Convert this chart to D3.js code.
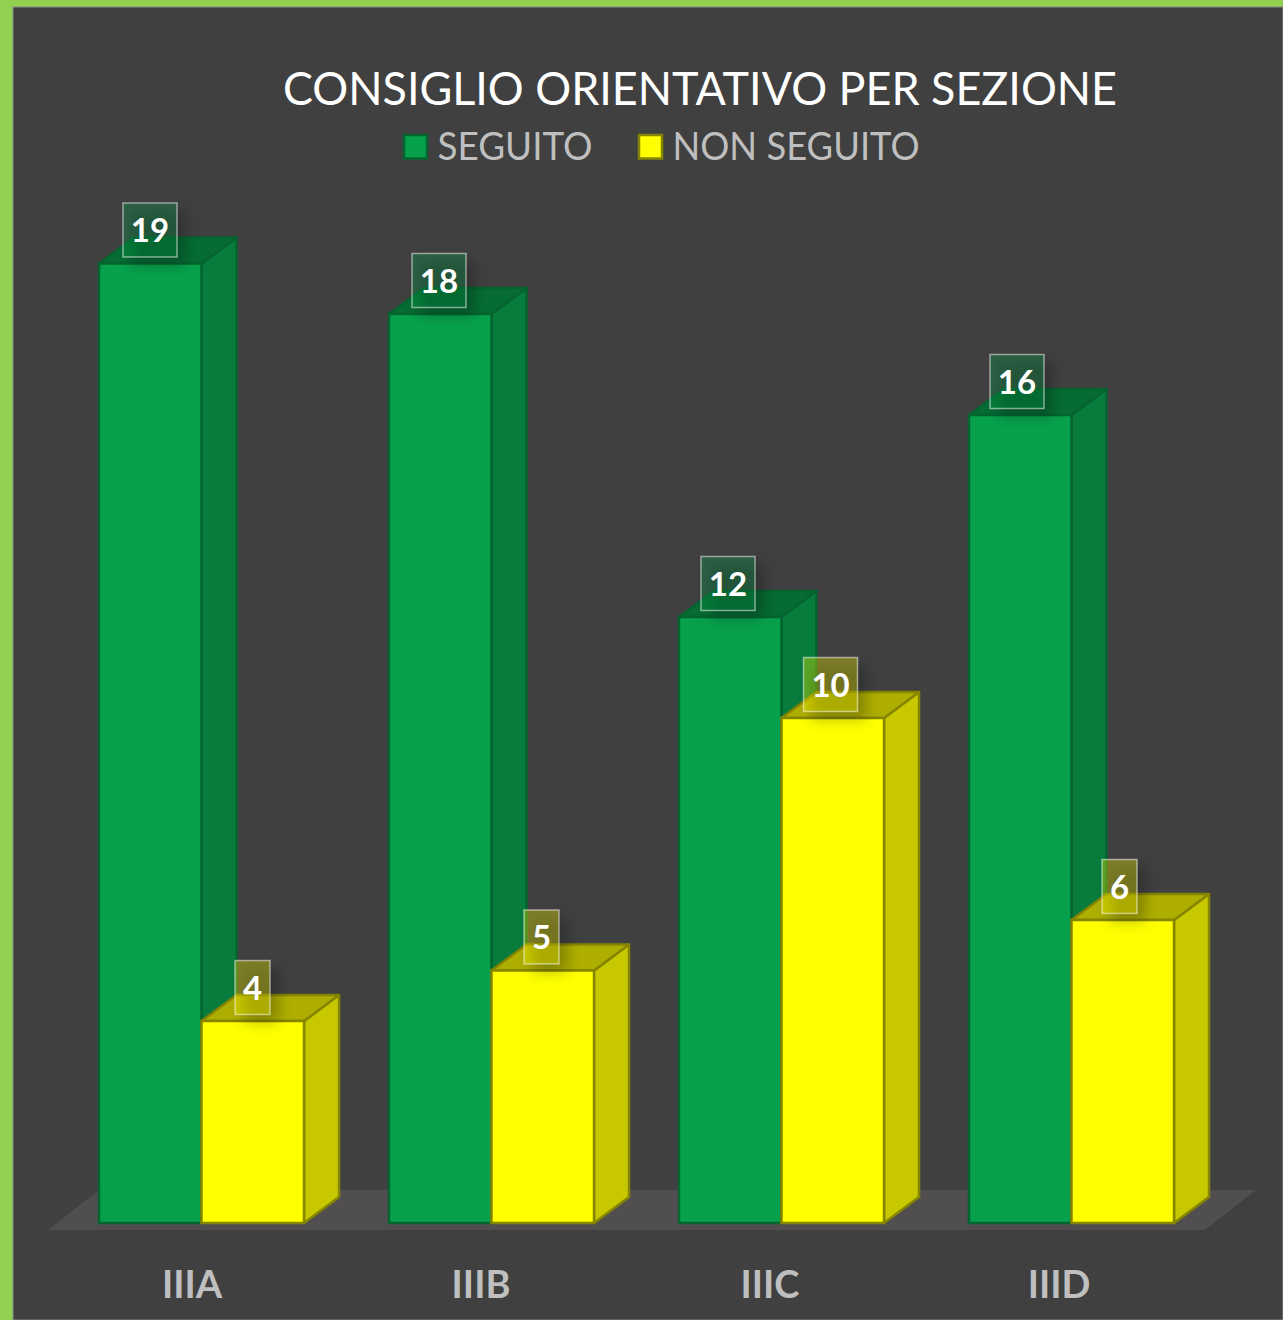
<!DOCTYPE html>
<html><head><meta charset="utf-8">
<script src="https://cdn.jsdelivr.net/npm/d3@7"></script>
<style>html,body{margin:0;padding:0;background:#404040}svg{display:block}text{font-family:Lato,"Open Sans",sans-serif}</style>
</head><body><svg id="c" width="1283" height="1320"></svg>
<script>
const categories=["IIIA","IIIB","IIIC","IIID"];
const seriesNames=["SEGUITO","NON SEGUITO"];
const seguito=[19,18,12,16];
const nonSeguito=[4,5,10,6];
const title="CONSIGLIO ORIENTATIVO PER SEZIONE";

const colors=[
 {front:"#07A14C",side:"#087C3C",top:"#066C33",stroke:"#05642F"},
 {front:"#FFFF00",side:"#C8C800",top:"#AEAE00",stroke:"#858500"}];
const svg=d3.select("#c");
const defs=svg.append("defs");
const f=defs.append("filter").attr("id","sh").attr("x","-40%").attr("y","-40%").attr("width","200%").attr("height","200%");
f.append("feGaussianBlur").attr("stdDeviation",7);
const W=1283,H=1320;
svg.append("rect").attr("width",W).attr("height",H).attr("fill","#92D050");
svg.append("rect").attr("x",13).attr("y",7).attr("width",W-13).attr("height",H-7).attr("fill","#404040").attr("stroke","#8a8a8a").attr("stroke-width",1);

const depthX=35, depthY=26;
const y=d3.scaleLinear().domain([0,19]).range([1223,263.5]);
const x0=d3.scaleBand().domain(categories).range([56.5,1216.5]).paddingInner(0.293).paddingOuter(0.1465);
const x1=d3.scaleBand().domain([0,1]).range([0,x0.bandwidth()]);
// text runs on a slightly tighter step than the bars in the reference
const xText=d3.scaleBand().domain(categories).range([47.5,1203.5]);

// floor
svg.append("polygon").attr("points",[[48,1230],[1205,1230],[1256,1190],[99,1190]].join(" ")).attr("fill","#514E4F");

// category axis
const ax=svg.append("g").attr("transform","translate(0,1298)")
 .call(d3.axisBottom(xText).tickSize(0).tickPadding(0));
ax.select(".domain").remove();
ax.selectAll("text").attr("dy",0).attr("y",0)
 .attr("fill","#BFBFBF").attr("font-size",38).attr("font-weight",700)
 .style("font-family","Lato");

const rows=[];
categories.forEach((c,i)=>{[seguito[i],nonSeguito[i]].forEach((v,s)=>rows.push({c,v,s}))});

const bars=svg.append("g").selectAll("g").data(rows).join("g");
bars.each(function(d){
 const g=d3.select(this),c=colors[d.s];
 const xa=x0(d.c)+x1(d.s),xb=xa+x1.bandwidth(),yt=y(d.v),yb=y(0);
 g.append("polygon").attr("points",[[xb,yt],[xb+depthX,yt-depthY],[xb+depthX,yb-depthY],[xb,yb]].join(" "))
  .attr("fill",c.side).attr("stroke",c.stroke).attr("stroke-width",2.5).attr("stroke-linejoin","round");
 g.append("polygon").attr("points",[[xa,yt],[xa+depthX,yt-depthY],[xb+depthX,yt-depthY],[xb,yt]].join(" "))
  .attr("fill",c.top).attr("stroke",c.stroke).attr("stroke-width",2.5).attr("stroke-linejoin","round");
 g.append("rect").attr("x",xa).attr("y",yt).attr("width",xb-xa).attr("height",yb-yt)
  .attr("fill",c.front).attr("stroke",c.stroke).attr("stroke-width",2.5);
});

// value labels
const labels=svg.append("g").selectAll("g").data(rows).join("g");
labels.each(function(d){
 const g=d3.select(this),c=colors[d.s];
 const cx=xText(d.c)+x1(d.s)+x1.bandwidth()/2+51.25, boxW=String(d.v).length>1?54:35, boxH=54;
 const yTop=y(d.v)-60.5;
 g.append("rect").attr("x",cx-boxW/2+8).attr("y",yTop+8).attr("width",boxW).attr("height",boxH)
  .attr("fill","#000").attr("opacity",0.25).attr("filter","url(#sh)");
 g.append("rect").attr("x",cx-boxW/2).attr("y",yTop).attr("width",boxW).attr("height",boxH)
  .attr("fill",c.front).attr("fill-opacity",0.33).attr("stroke","#fff").attr("stroke-opacity",0.5).attr("stroke-width",1.5);
 g.append("text").attr("x",cx).attr("y",yTop+39).attr("text-anchor","middle")
  .attr("fill","#fff").attr("font-size",33).attr("font-weight",700).text(d.v);
});

// title
svg.append("text").attr("x",700).attr("y",105).attr("text-anchor","middle")
 .attr("fill","#fff").attr("font-size",47).attr("textLength",834).attr("lengthAdjust","spacingAndGlyphs").text(title);

// legend
const leg=[{x:403,tx:437.5,w:155},{x:638,tx:672.5,w:247}];
seriesNames.forEach((n,i)=>{
 svg.append("rect").attr("x",leg[i].x+1).attr("y",135).attr("width",23).attr("height",23.5)
  .attr("fill",colors[i].front).attr("stroke",colors[i].stroke).attr("stroke-width",2.5);
 svg.append("text").attr("x",leg[i].tx).attr("y",160).attr("fill","#BFBFBF").attr("font-size",38)
  .attr("textLength",leg[i].w).attr("lengthAdjust","spacingAndGlyphs").text(n);
});
</script></body></html>
